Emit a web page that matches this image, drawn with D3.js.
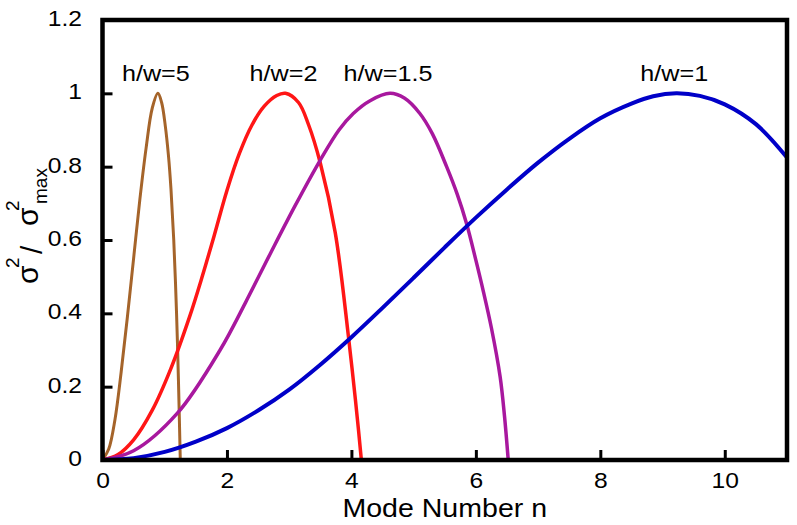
<!DOCTYPE html>
<html><head><meta charset="utf-8">
<script src="https://cdn.jsdelivr.net/npm/d3@7/dist/d3.min.js"></script>
<style>body{margin:0;background:#fff}svg{display:block}</style>
</head><body>
<svg id="chart" width="797" height="525"></svg>
<script>
// ---- data ----
const seriesNames = ["h/w=5", "h/w=2", "h/w=1.5", "h/w=1"];
const nHW5 = [0, 0.1, 0.2, 0.3, 0.4, 0.5, 0.6, 0.7, 0.8, 0.89, 0.95, 1.01, 1.06, 1.1, 1.145, 1.19, 1.22, 1.25];
const vHW5 = [0, 0.03, 0.11, 0.24, 0.39, 0.55, 0.71, 0.85, 0.96, 1.0, 0.975, 0.91, 0.83, 0.74, 0.6, 0.4, 0.22, 0];
const nHW2 = [0, 0.25, 0.5, 0.8, 1.1, 1.4, 1.6, 1.8, 2.0, 2.2, 2.4, 2.6, 2.8, 2.94, 3.15, 3.31, 3.5, 3.74, 3.95, 4.16];
const vHW2 = [0, 0.015, 0.055, 0.136, 0.25, 0.391, 0.499, 0.615, 0.735, 0.836, 0.913, 0.965, 0.994, 1.0, 0.975, 0.915, 0.81, 0.62, 0.34, 0];
const nHW15 = [0, 0.5, 1.2, 1.89, 2.3, 2.7, 3.1, 3.5, 3.8, 4.03, 4.3, 4.62, 4.85, 5.1, 5.3, 5.53, 5.7, 5.85, 6.0, 6.12, 6.25, 6.39, 6.46, 6.52];
const vHW15 = [0, 0.025, 0.127, 0.3, 0.43, 0.564, 0.695, 0.818, 0.9, 0.945, 0.98, 1.0, 0.987, 0.945, 0.89, 0.8, 0.725, 0.645, 0.545, 0.46, 0.36, 0.227, 0.12, 0];
const nHW1 = [0, 0.5, 1, 1.5, 2, 2.5, 3, 3.5, 4, 4.5, 5, 5.5, 6, 6.5, 7, 7.5, 8, 8.5, 8.85, 9.22, 9.6, 10, 10.5, 11];
const vHW1 = [0, 0.005, 0.022, 0.05, 0.087, 0.135, 0.192, 0.26, 0.335, 0.415, 0.497, 0.58, 0.661, 0.738, 0.811, 0.876, 0.932, 0.972, 0.992, 1.0, 0.993, 0.97, 0.916, 0.825];
const xTicks = [0, 2, 4, 6, 8, 10];
const yTicks = [0, 0.2, 0.4, 0.6, 0.8, 1, 1.2];
const xTitle = "Mode Number n";

const colors = ["#a5642a", "#ff1616", "#a8189e", "#0000c8"];
const widths = [3, 3.5, 3.5, 4];
const series = [
  {name: seriesNames[0], n: nHW5, v: vHW5},
  {name: seriesNames[1], n: nHW2, v: vHW2},
  {name: seriesNames[2], n: nHW15, v: vHW15},
  {name: seriesNames[3], n: nHW1, v: vHW1}
];

// ---- layout ----
const L = 102.5, R = 787, T = 20, B = 460;
const SX = 1.12; // horizontal stretch of the reference's glyphs
const font = "'Liberation Sans', Arial, Helvetica, sans-serif";

const svg = d3.select("#chart");
const x = d3.scaleLinear().domain([0, 11]).range([L, R]);
const y = d3.scaleLinear().domain([0, 1.2]).range([B, T]);

svg.append("clipPath").attr("id", "clip").append("rect")
  .attr("x", L).attr("y", T).attr("width", R - L).attr("height", B - T);

// curves
const line = d3.line().x(d => x(d[0])).y(d => y(d[1])).curve(d3.curveCatmullRom.alpha(0.5));
const gLines = svg.append("g").attr("clip-path", "url(#clip)");
series.forEach((s, i) => {
  const pts = s.n.map((n, j) => [n, s.v[j]]);
  gLines.append("path").datum(pts)
    .attr("d", line).attr("fill", "none")
    .attr("stroke", colors[i]).attr("stroke-width", widths[i])
    .attr("stroke-linejoin", "round").attr("stroke-linecap", "round");
});

// axes
const xAxis = svg.append("g").attr("transform", `translate(0,${B})`)
  .call(d3.axisBottom(x).tickValues(xTicks).tickFormat(d3.format("d")).tickSizeInner(-10).tickSizeOuter(0));
const yAxis = svg.append("g").attr("transform", `translate(${L},0)`)
  .call(d3.axisLeft(y).tickValues(yTicks).tickFormat(d => d === 0 ? "0" : (d === 1 ? "1" : d3.format(".1f")(d))).tickSizeInner(-10).tickSizeOuter(0));
[xAxis, yAxis].forEach(a => {
  a.select(".domain").remove();
  a.selectAll(".tick line").attr("stroke", "#000").attr("stroke-width", 3);
  a.selectAll(".tick text").attr("fill", "#000").style("font-family", font).style("font-size", "22px");
});
xAxis.selectAll(".tick text").attr("y", 0).attr("dy", 0)
  .attr("transform", `translate(0,27.5) scale(${SX},1)`);
yAxis.selectAll(".tick text").attr("x", 0).attr("dy", 0)
  .attr("transform", `translate(-20.5,5.4) scale(${SX},1)`);
yAxis.select(".tick:last-of-type line").remove();

// frame
svg.append("rect").attr("x", L).attr("y", T).attr("width", R - L).attr("height", B - T)
  .attr("fill", "none").attr("stroke", "#000").attr("stroke-width", 4.5);

// curve labels
series.forEach((s, i) => {
  const pk = d3.maxIndex(s.v);
  svg.append("text")
    .attr("transform", `translate(${x(s.n[pk]) - 2},81) scale(${SX},1)`)
    .attr("text-anchor", "middle").attr("fill", "#000")
    .style("font-family", font).style("font-size", "22.5px")
    .text(s.name);
});

// x title
svg.append("text")
  .attr("transform", `translate(${(L + R) / 2},517) scale(${SX},1)`)
  .attr("text-anchor", "middle").attr("fill", "#000")
  .style("font-family", font).style("font-size", "25.5px")
  .text(xTitle);

// y title: sigma^2 / sigma^2_max (rotated)
const gy = svg.append("g").attr("transform", "translate(38,284) rotate(-90)")
  .attr("fill", "#000").style("font-family", font);
const parts = [
  {t: "σ", x: 0, y: 0, s: 30},
  {t: "2", x: 16, y: -19, s: 19},
  {t: "/", x: 30, y: 4, s: 30},
  {t: "σ", x: 58, y: 0, s: 30},
  {t: "2", x: 73, y: -19, s: 19},
  {t: "max", x: 80, y: 9, s: 19}
];
parts.forEach(p => gy.append("text").attr("x", p.x).attr("y", p.y)
  .style("font-size", p.s + "px").text(p.t));
</script>
</body></html>
